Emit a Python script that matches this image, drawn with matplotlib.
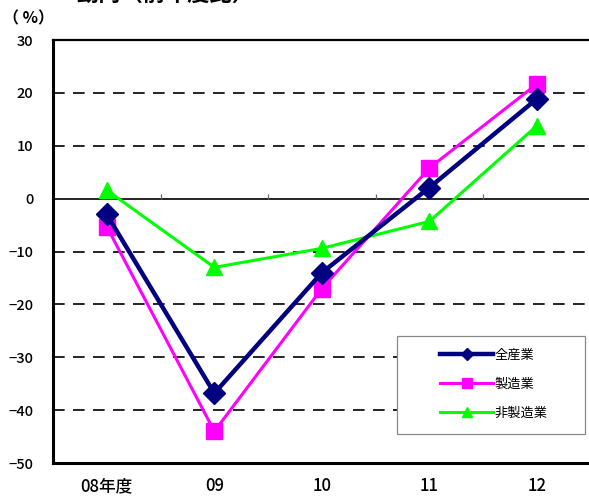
import matplotlib.pyplot as plt
from matplotlib.patches import Rectangle
import numpy as np

plt.rcParams['font.family'] = ['Noto Sans CJK JP', 'DejaVu Sans']

years = ['08年度', '09', '10', '11', '12']
all_industry = [-3.0, -36.8, -14.0, 2.1, 18.9]
manufacturing = [-5.3, -44.0, -17.0, 5.8, 21.7]
non_manufacturing = [1.6, -13.0, -9.4, -4.3, 13.8]
yticks = [30, 20, 10, 0, -10, -20, -30, -40, -50]

fig = plt.figure(figsize=(5.89, 4.97), dpi=100)
ax = fig.add_axes([0.090, 0.0684, 0.913, 0.8511])

x = np.arange(len(years))

# horizontal reference lines
for v in yticks[1:-1]:
    if v == 0:
        ax.axhline(v, color='black', lw=1.2, zorder=1)
    else:
        ax.axhline(v, color='black', lw=1.2, ls=(0, (7, 5)), zorder=1)

# category separators on the zero line
ax.vlines(np.arange(0.5, len(years) - 0.5), 0, 0.8, color='#666666', lw=0.9, zorder=1)

ax.plot(x, all_industry, color='#000080', lw=3.2, marker='D', ms=11,
        label='全産業', zorder=4)
ax.plot(x, manufacturing, color='#FF00FF', lw=2.2, marker='s', ms=11,
        label='製造業', zorder=3)
ax.plot(x, non_manufacturing, color='#00FF00', lw=2.2, marker='^', ms=12,
        label='非製造業', zorder=2)

ax.set_xlim(-0.5, len(years) - 0.5)
ax.set_ylim(-50, 30)
ax.set_yticks(yticks)
ax.set_yticklabels([f'{v}' if v >= 0 else f'−{-v}' for v in yticks],
                   fontsize=10.5, fontweight='medium')
ax.set_xticks(x)
ax.set_xticklabels(years, fontsize=12, fontweight='medium')
ax.tick_params(axis='both', length=0)
ax.tick_params(axis='y', pad=14)
ax.tick_params(axis='x', pad=10)

for s in ['left', 'bottom']:
    ax.spines[s].set_linewidth(2.2)
ax.spines['top'].set_linewidth(1.6)
ax.spines['right'].set_visible(False)

# legend box with wide side margins
ax.add_patch(Rectangle((0.640, 0.0686), 0.349, 0.2314, transform=ax.transAxes,
                       facecolor='white', edgecolor='#888888', lw=0.9, zorder=5))
leg = ax.legend(loc='center', bbox_to_anchor=(0.82, 0.186), fontsize=9.5,
                handlelength=4.0, handletextpad=0.1, labelspacing=1.2,
                markerscale=0.6, borderpad=0, frameon=False, borderaxespad=0)
leg.set_zorder(6)

fig.text(0.005, 0.962, '（ %）', fontsize=11.5, fontweight='bold', va='center')
fig.text(0.13, 0.988, '動向（前年度比）', fontsize=16, fontweight='bold', va='bottom')

fig.savefig('out.png', dpi=100)
